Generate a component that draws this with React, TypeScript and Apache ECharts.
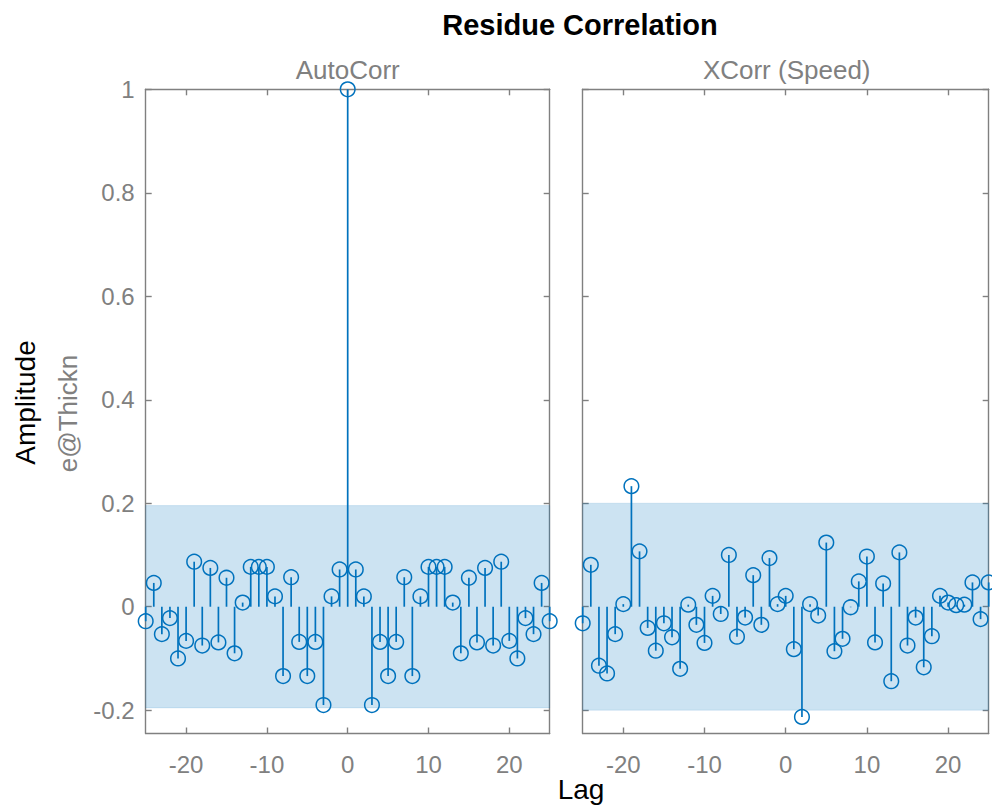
import React, { useEffect, useRef } from "react";
import * as echarts from "echarts";

// ---------- data ----------
const lags = [
  -25, -24, -23, -22, -21, -20, -19, -18, -17, -16, -15, -14, -13, -12, -11, -10, -9, -8, -7, -6, -5, -4, -3, -2, -1,
  0, 1, 2, 3, 4, 5, 6, 7, 8, 9, 10, 11, 12, 13, 14, 15, 16, 17, 18, 19, 20, 21, 22, 23, 24, 25,
];

const autoCorr = [
  -0.028, 0.046, -0.053, -0.022, -0.1, -0.066, 0.087, -0.075, 0.075, -0.069, 0.056, -0.09, 0.008, 0.077, 0.077, 0.077,
  0.02, -0.134, 0.057, -0.068, -0.134, -0.068, -0.19, 0.02, 0.072,
  1,
  0.072, 0.02, -0.19, -0.068, -0.134, -0.068, 0.057, -0.134, 0.02, 0.077, 0.077, 0.077, 0.008, -0.09, 0.056, -0.069,
  0.075, -0.075, 0.087, -0.066, -0.1, -0.022, -0.053, 0.046, -0.028,
];

const xCorrSpeed = [
  -0.032, 0.081, -0.114, -0.129, -0.053, 0.005, 0.233, 0.107, -0.041, -0.085, -0.032, -0.059, -0.12, 0.004, -0.035,
  -0.07, 0.021, -0.014, 0.1, -0.058, -0.021, 0.061, -0.035, 0.094, 0.005,
  0.021,
  -0.082, -0.213, 0.005, -0.017, 0.124, -0.086, -0.062, -0.001, 0.049, 0.097, -0.069, 0.045, -0.144, 0.105, -0.075,
  -0.021, -0.117, -0.057, 0.021, 0.008, 0.003, 0.004, 0.047, -0.024, 0.047,
];

const autoBand = [-0.1955, 0.1955];
const xCorrBand = [-0.2, 0.2];

const lagRange = [-25, 25];
const ampRange = [-0.245, 1];
const xTicks = [-20, -10, 0, 10, 20];
const xTickLabels = ["-20", "-10", "0", "10", "20"];
const yTicks = [-0.2, 0, 0.2, 0.4, 0.6, 0.8, 1];
const yTickLabels = ["-0.2", "0", "0.2", "0.4", "0.6", "0.8", "1"];

const chartTitle = "Residue Correlation";
const panelTitles = ["AutoCorr", "XCorr (Speed)"];
const xLabel = "Lag";
const yLabel = "Amplitude";
const ySubLabel = "e@Thickn";

// ---------- style ----------
const FONT = "'Liberation Sans', Arial, Helvetica, sans-serif";
const BLUE = "#0072BD";
const AXIS = "#808080";
const TEXT_GRAY = "#808080";

const grids = [
  { left: 145.7, top: 89.3, width: 404, height: 644.2 },
  { left: 582.7, top: 89.3, width: 406, height: 644.2 },
];

function fmt(list: number[], labels: string[]) {
  return (v: number) => {
    for (let i = 0; i < list.length; i++) {
      if (Math.abs(list[i] - v) < 1e-9) return labels[i];
    }
    return "";
  };
}

function buildOption() {
  const xAxis: any[] = [];
  const yAxis: any[] = [];
  const series: any[] = [];
  const panels = [
    { values: autoCorr, band: autoBand },
    { values: xCorrSpeed, band: xCorrBand },
  ];

  grids.forEach((_, gi) => {
    const lineCfg = { show: true, onZero: false, lineStyle: { color: AXIS, width: 1.4 } };
    const tickCfg = { show: true, inside: true, length: 6, lineStyle: { color: AXIS, width: 1.4 } };
    xAxis.push({
      type: "value",
      gridIndex: gi,
      position: "bottom",
      min: lagRange[0],
      max: lagRange[1],
      axisLine: lineCfg,
      axisTick: { ...tickCfg, customValues: xTicks },
      axisLabel: {
        show: true,
        customValues: xTicks,
        formatter: fmt(xTicks, xTickLabels),
        color: TEXT_GRAY,
        fontSize: 24,
        fontFamily: FONT,
        margin: 19,
      },
      splitLine: { show: false },
    });
    xAxis.push({
      type: "value",
      gridIndex: gi,
      position: "top",
      min: lagRange[0],
      max: lagRange[1],
      axisLine: lineCfg,
      axisTick: { ...tickCfg, customValues: xTicks },
      axisLabel: { show: false },
      splitLine: { show: false },
    });
    yAxis.push({
      type: "value",
      gridIndex: gi,
      position: "left",
      min: ampRange[0],
      max: ampRange[1],
      axisLine: lineCfg,
      axisTick: { ...tickCfg, customValues: yTicks },
      axisLabel: {
        show: gi === 0,
        customValues: yTicks,
        formatter: fmt(yTicks, yTickLabels),
        color: TEXT_GRAY,
        fontSize: 24,
        fontFamily: FONT,
        margin: 11,
      },
      splitLine: { show: false },
    });
    yAxis.push({
      type: "value",
      gridIndex: gi,
      position: "right",
      min: ampRange[0],
      max: ampRange[1],
      axisLine: lineCfg,
      axisTick: { ...tickCfg, customValues: yTicks },
      axisLabel: { show: false },
      splitLine: { show: false },
    });

    const p = panels[gi];
    series.push({
      type: "custom",
      xAxisIndex: gi * 2,
      yAxisIndex: gi * 2,
      z: 1,
      silent: true,
      clip: false,
      data: [[lagRange[0], lagRange[1], p.band[0], p.band[1]]],
      renderItem: (params: any, api: any) => {
        const a = api.coord([api.value(0), api.value(3)]);
        const b = api.coord([api.value(1), api.value(2)]);
        return {
          type: "rect",
          shape: { x: a[0], y: a[1], width: b[0] - a[0], height: b[1] - a[1] },
          style: { fill: "rgba(0,114,189,0.2)", stroke: "rgba(0,114,189,0.12)", lineWidth: 1 },
        };
      },
    });
    series.push({
      type: "custom",
      xAxisIndex: gi * 2,
      yAxisIndex: gi * 2,
      z: 3,
      silent: true,
      clip: false,
      data: lags.map((l, i) => [l, p.values[i]]),
      renderItem: (params: any, api: any) => {
        const base = api.coord([api.value(0), 0]);
        const tip = api.coord([api.value(0), api.value(1)]);
        return {
          type: "group",
          children: [
            {
              type: "line",
              shape: { x1: base[0], y1: base[1], x2: tip[0], y2: tip[1] },
              style: { stroke: BLUE, lineWidth: 1.7 },
            },
            {
              type: "circle",
              shape: { cx: tip[0], cy: tip[1], r: 7.3 },
              style: { fill: "none", stroke: BLUE, lineWidth: 1.5 },
            },
          ],
        };
      },
    });
  });

  const graphic: any[] = [
    {
      type: "text",
      x: 580,
      y: 25,
      style: {
        text: chartTitle,
        fontSize: 29,
        fontWeight: "bold",
        fontFamily: FONT,
        fill: "#000",
        align: "center",
        verticalAlign: "middle",
      },
    },
    {
      type: "text",
      x: 347.7,
      y: 70,
      style: {
        text: panelTitles[0],
        fontSize: 26,
        fontFamily: FONT,
        fill: TEXT_GRAY,
        align: "center",
        verticalAlign: "middle",
      },
    },
    {
      type: "text",
      x: 786.7,
      y: 70,
      style: {
        text: panelTitles[1],
        fontSize: 26,
        fontFamily: FONT,
        fill: TEXT_GRAY,
        align: "center",
        verticalAlign: "middle",
      },
    },
    {
      type: "text",
      x: 581,
      y: 789.5,
      style: {
        text: xLabel,
        fontSize: 28,
        fontFamily: FONT,
        fill: "#000",
        align: "center",
        verticalAlign: "middle",
      },
    },
    {
      type: "text",
      x: 25.5,
      y: 402.5,
      rotation: Math.PI / 2,
      style: {
        text: yLabel,
        fontSize: 28,
        fontFamily: FONT,
        fill: "#000",
        align: "center",
        verticalAlign: "middle",
      },
    },
    {
      type: "text",
      x: 67.5,
      y: 413.5,
      rotation: Math.PI / 2,
      style: {
        text: ySubLabel,
        fontSize: 26,
        fontFamily: FONT,
        fill: TEXT_GRAY,
        align: "center",
        verticalAlign: "middle",
      },
    },
  ];

  return {
    animation: false,
    backgroundColor: "#ffffff",
    grid: grids.map((g) => ({ ...g, containLabel: false })),
    xAxis,
    yAxis,
    series,
    graphic,
  };
}

export default function App() {
  const ref = useRef<HTMLDivElement>(null);
  useEffect(() => {
    if (!ref.current) return;
    const chart = echarts.init(ref.current, undefined, { renderer: "svg" });
    chart.setOption(buildOption() as any);
    return () => chart.dispose();
  }, []);
  return (
    <div
      ref={ref}
      style={{ position: "absolute", left: 0, top: 0, width: 992, height: 808, background: "#fff" }}
    />
  );
}
